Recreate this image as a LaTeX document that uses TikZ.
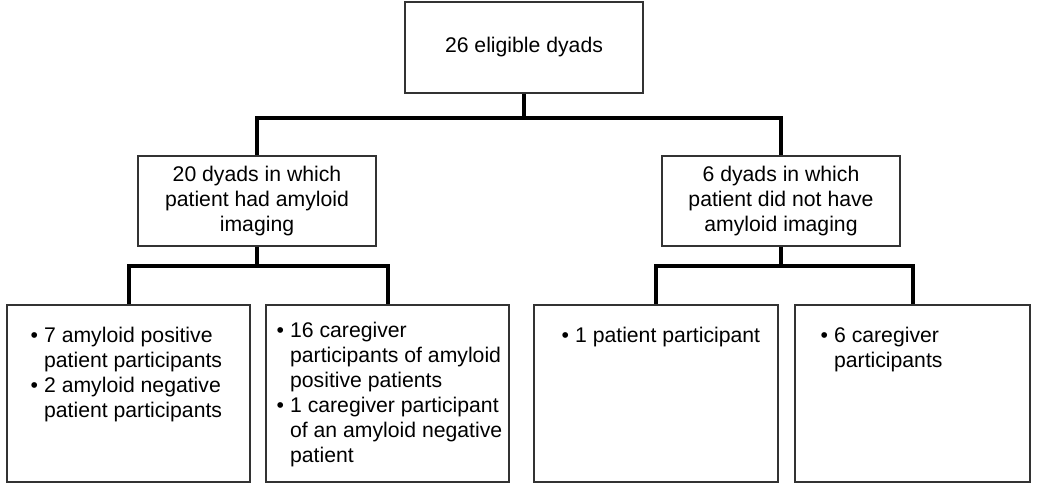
\documentclass[tikz,border=0pt]{standalone}
\usepackage{fontspec}
\setmainfont{Liberation Sans}
\usetikzlibrary{positioning}

\begin{document}
\begin{tikzpicture}[x=0.5pt,y=-0.5pt,
  every node/.style={font=\fontsize{10.6}{12.5}\selectfont},
  box/.style={draw=black!80,line width=0.7pt,inner sep=0pt},
  conn/.style={line width=2pt},
  txt/.style={inner sep=0pt,anchor=north west}]

\useasboundingbox (0,0) rectangle (1050,489);

% top level
\node[box,minimum width=119pt,minimum height=45.5pt] (top) at (524,47.5) {26 eligible dyads};

% second level
\node[box,align=center,minimum width=119pt,minimum height=45pt] (midL) at (257,201)
  {20 dyads in which\\patient had amyloid\\imaging};
\node[box,align=center,minimum width=119pt,minimum height=45pt] (midR) at (781,201)
  {6 dyads in which\\patient did not have\\amyloid imaging};

% bottom level
\node[box,minimum width=121.5pt,minimum height=88.5pt] (botA) at (128.5,393.5) {};
\node[box,minimum width=121.5pt,minimum height=88.5pt] (botB) at (387.5,393.5) {};
\node[box,minimum width=122pt,minimum height=88.5pt] (botC) at (656,393.5) {};
\node[box,minimum width=117.5pt,minimum height=88.5pt] (botD) at (912.5,393.5) {};

\node[txt] (tA) at ([shift={(24,20)}]botA.north west)
  {\begin{tabular}{@{}l@{\hspace{3pt}}l@{}}
   \textbullet & 7 amyloid positive\\
               & patient participants\\
   \textbullet & 2 amyloid negative\\
               & patient participants
   \end{tabular}};
\node[txt] (tB) at ([shift={(11,15)}]botB.north west)
  {\begin{tabular}{@{}l@{\hspace{3pt}}l@{}}
   \textbullet & 16 caregiver\\
               & participants of amyloid\\
               & positive patients\\
   \textbullet & 1 caregiver participant\\
               & of an amyloid negative\\
               & patient
   \end{tabular}};
\node[txt] (tC) at ([shift={(28,20)}]botC.north west)
  {\begin{tabular}{@{}l@{\hspace{3pt}}l@{}}
   \textbullet & 1 patient participant
   \end{tabular}};
\node[txt] (tD) at ([shift={(26,20)}]botD.north west)
  {\begin{tabular}{@{}l@{\hspace{3pt}}l@{}}
   \textbullet & 6 caregiver\\
               & participants
   \end{tabular}};

% connectors
\coordinate (j1) at (top.south |- 0,118);
\coordinate (j2) at (midL.south |- 0,266);
\coordinate (j3) at (midR.south |- 0,266);
\draw[conn] (top.south) -- (j1) -| (midL.north);
\draw[conn] (j1) -| (midR.north);
\draw[conn] (midL.south) -- (j2) -| (botA.north);
\draw[conn] (j2) -| (botB.north);
\draw[conn] (midR.south) -- (j3) -| (botC.north);
\draw[conn] (j3) -| (botD.north);

\end{tikzpicture}
\end{document}
